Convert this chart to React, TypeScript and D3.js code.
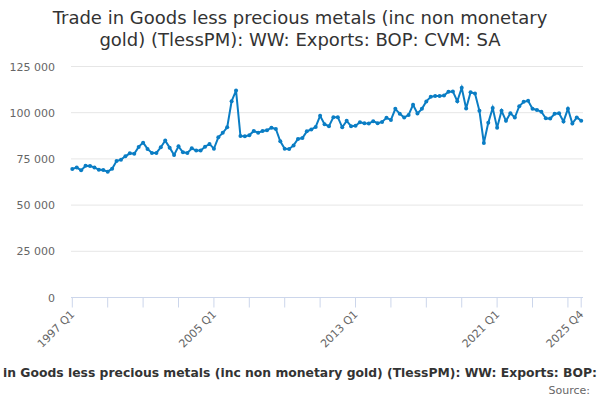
import React from "react";
import * as d3 from "d3";

const titleLines = [
  "Trade in Goods less precious metals (inc non monetary",
  "gold) (TlessPM): WW: Exports: BOP: CVM: SA",
];
const captionHead = "Trade";
const captionMid =
  "in Goods less precious metals (inc non monetary gold) (TlessPM): WW: Exports: BOP:";
const captionTail = "CVM: SA";
const startYear = 1997;
const values = [
  69500, 70400, 68800, 71300, 71100, 70400, 69100, 69000, 68100, 69700,
  73800, 74600, 76400, 78000, 77800, 81500, 83800, 80400, 78200, 78200,
  81300, 84900, 81100, 77100, 81800, 78600, 78200, 80700, 79500, 79600,
  81600, 83100, 80500, 86700, 89100, 92100, 106200, 112000, 87400, 87200,
  87800, 90100, 89200, 90100, 90500, 91900, 91200, 84500, 80500, 80400,
  82300, 85800, 86300, 89900, 90900, 92300, 98300, 93800, 92700, 97600,
  97600, 92100, 95600, 92700, 92900, 94800, 94300, 94100, 95400, 94300,
  95000, 97200, 96100, 102100, 99400, 97400, 98800, 104300, 99600, 102100,
  106100, 108600, 109000, 109000, 109300, 111300, 111500, 106200, 113500, 102300,
  111100, 110400, 101000, 83600, 94500, 102600, 91800, 101000, 95600, 99700,
  97400, 103500, 105900, 106400, 102100, 101500, 100500, 97000, 96800, 99400,
  99700, 95200, 102100, 94100, 97400, 95700,
];
const categories = values.map(
  (_, i) => `${startYear + Math.floor(i / 4)} Q${(i % 4) + 1}`
);
const yTicks = [0, 25000, 50000, 75000, 100000, 125000];
const xTickCats = [
  "1997 Q1", "1999 Q1", "2001 Q1", "2003 Q1", "2005 Q1", "2007 Q1", "2009 Q1",
  "2011 Q1", "2013 Q1", "2015 Q1", "2017 Q1", "2019 Q1", "2021 Q1", "2023 Q1",
  "2025 Q1", "2025 Q4",
];
const xLabelCats = ["1997 Q1", "2005 Q1", "2013 Q1", "2021 Q1", "2025 Q4"];

const FONT = "'DejaVu Sans', sans-serif";
const LINE = "#0a7dc4";

export default function App() {
  const W = 600;
  const H = 400;
  const x = d3
    .scalePoint<string>()
    .domain(categories)
    .range([72.3, 581.2]);
  const y = d3.scaleLinear().domain([0, 125000]).range([297.5, 66.5]);
  const fmt = (v: number) => d3.format(",")(v).replace(/,/g, " ");
  const line = d3
    .line<number>()
    .x((_, i) => x(categories[i]) as number)
    .y((d) => y(d));

  return (
    <svg
      width={W}
      height={H}
      style={{ position: "absolute", left: 0, top: 0, fontFamily: FONT }}
    >
      <rect width={W} height={H} fill="#fff" />
      {titleLines.map((t, i) => (
        <text
          key={i}
          x={300}
          y={24 + i * 21.5}
          textAnchor="middle"
          fontSize={18}
          fill="#333"
        >
          {t}
        </text>
      ))}
      {yTicks.map((t) => (
        <g key={t}>
          {t > 0 && (
            <line x1={71} x2={583} y1={y(t)} y2={y(t)} stroke="#e6e6e6" />
          )}
          <text
            x={55}
            y={y(t) + 4}
            textAnchor="end"
            fontSize={11}
            fill="#666"
          >
            {fmt(t)}
          </text>
        </g>
      ))}
      <line x1={71} x2={583} y1={297.5} y2={297.5} stroke="#ccd6eb" />
      {xTickCats.map((c) => (
        <line
          key={c}
          x1={x(c)}
          x2={x(c)}
          y1={297.5}
          y2={307.5}
          stroke="#ccd6eb"
        />
      ))}
      {xLabelCats.map((c) => (
        <text
          key={c}
          transform={`translate(${(x(c) as number) + 3},${315}) rotate(-45)`}
          textAnchor="end"
          fontSize={11}
          fill="#666"
        >
          {c}
        </text>
      ))}
      <path d={line(values) || ""} fill="none" stroke={LINE} strokeWidth={2} />
      {values.map((v, i) => (
        <circle
          key={i}
          cx={x(categories[i])}
          cy={y(v)}
          r={2}
          fill={LINE}
        />
      ))}
      <g fontSize={12.7} fontWeight="bold" fill="#333">
        <text x={-4} y={377} textAnchor="end">
          {captionHead}
        </text>
        <text
          x={3}
          y={377}
          textAnchor="start"
          textLength={594}
          lengthAdjust="spacingAndGlyphs"
        >
          {captionMid}
        </text>
        <text x={610} y={377} textAnchor="start">
          {captionTail}
        </text>
      </g>
      <text x={590} y={394} textAnchor="end" fontSize={11} fill="#666">
        Source:
      </text>
    </svg>
  );
}
